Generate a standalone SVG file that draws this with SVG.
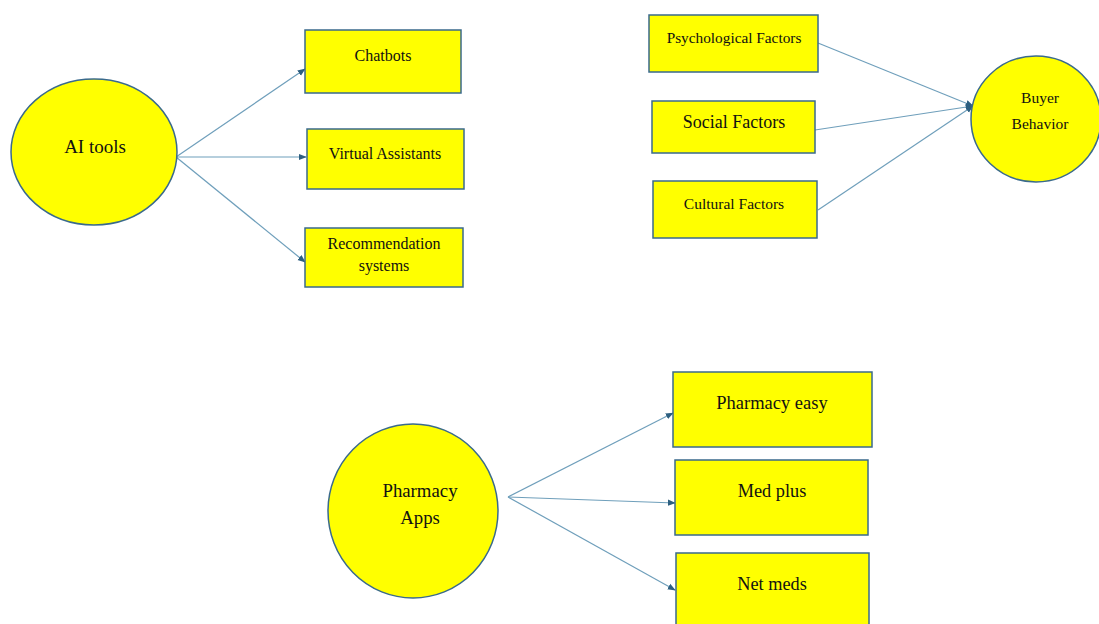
<svg xmlns="http://www.w3.org/2000/svg" width="1099" height="624" viewBox="0 0 1099 624">
<defs>
<style>
.n{fill:#ffff00;stroke:#3a6a8c;stroke-width:1.5}
.t{font-family:"Liberation Serif","Times New Roman",serif;fill:#111;text-anchor:middle}
.c{stroke:#6f9fbb;stroke-width:1.2;fill:none}
</style>
<marker id="a" viewBox="0 0 10 10" refX="9" refY="5" markerWidth="8" markerHeight="8" orient="auto" markerUnits="userSpaceOnUse"><path d="M0,1 L10,5 L0,9 z" fill="#2d5f80"/></marker>
</defs>
<rect width="1099" height="624" fill="#fff"/>
<g id="connectors">
<line class="c" x1="176" y1="157" x2="305" y2="69" marker-end="url(#a)"/>
<line class="c" x1="176" y1="157" x2="306" y2="157" marker-end="url(#a)"/>
<line class="c" x1="176" y1="157" x2="305" y2="262" marker-end="url(#a)"/>
<line class="c" x1="818" y1="43" x2="973" y2="106" marker-end="url(#a)"/>
<line class="c" x1="815" y1="130" x2="973" y2="106" marker-end="url(#a)"/>
<line class="c" x1="818" y1="210" x2="973" y2="106" marker-end="url(#a)"/>
<line class="c" x1="508" y1="497" x2="673" y2="413" marker-end="url(#a)"/>
<line class="c" x1="508" y1="497" x2="675" y2="503" marker-end="url(#a)"/>
<line class="c" x1="508" y1="497" x2="675" y2="590" marker-end="url(#a)"/>
</g>
<g id="ai-tools"><ellipse class="n" cx="94" cy="152" rx="83" ry="73"/><text class="t" x="95" y="153" font-size="19">AI tools</text></g>
<g id="chatbots"><rect class="n" x="305" y="30" width="156" height="63"/><text class="t" x="383" y="61" font-size="16">Chatbots</text></g>
<g id="virtual-assistants"><rect class="n" x="307" y="129" width="157" height="60"/><text class="t" x="385" y="159" font-size="16">Virtual Assistants</text></g>
<g id="recommendation"><rect class="n" x="305" y="228" width="158" height="59"/><text class="t" x="384" y="249" font-size="16">Recommendation</text><text class="t" x="384" y="271" font-size="16">systems</text></g>
<g id="psychological"><rect class="n" x="649" y="15" width="169" height="57"/><text class="t" x="734" y="43" font-size="15.3">Psychological Factors</text></g>
<g id="social"><rect class="n" x="652" y="101" width="163" height="52"/><text class="t" x="734" y="128" font-size="18">Social Factors</text></g>
<g id="cultural"><rect class="n" x="653" y="181" width="164" height="57"/><text class="t" x="734" y="209" font-size="15.5">Cultural Factors</text></g>
<g id="buyer-behavior"><ellipse class="n" cx="1036" cy="119" rx="65" ry="63"/><text class="t" x="1040" y="103" font-size="15.5">Buyer</text><text class="t" x="1040" y="129" font-size="15.5">Behavior</text></g>
<g id="pharmacy-apps"><ellipse class="n" cx="413" cy="511" rx="85" ry="87"/><text class="t" x="420" y="497" font-size="18.8">Pharmacy</text><text class="t" x="420" y="524" font-size="18.8">Apps</text></g>
<g id="pharmacy-easy"><rect class="n" x="673" y="372" width="199" height="75"/><text class="t" x="772" y="409" font-size="18.5">Pharmacy easy</text></g>
<g id="med-plus"><rect class="n" x="675" y="460" width="193" height="75"/><text class="t" x="772" y="497" font-size="18.3">Med plus</text></g>
<g id="net-meds"><rect class="n" x="676" y="553" width="193" height="80"/><text class="t" x="772" y="590" font-size="18.3">Net meds</text></g>
</svg>
